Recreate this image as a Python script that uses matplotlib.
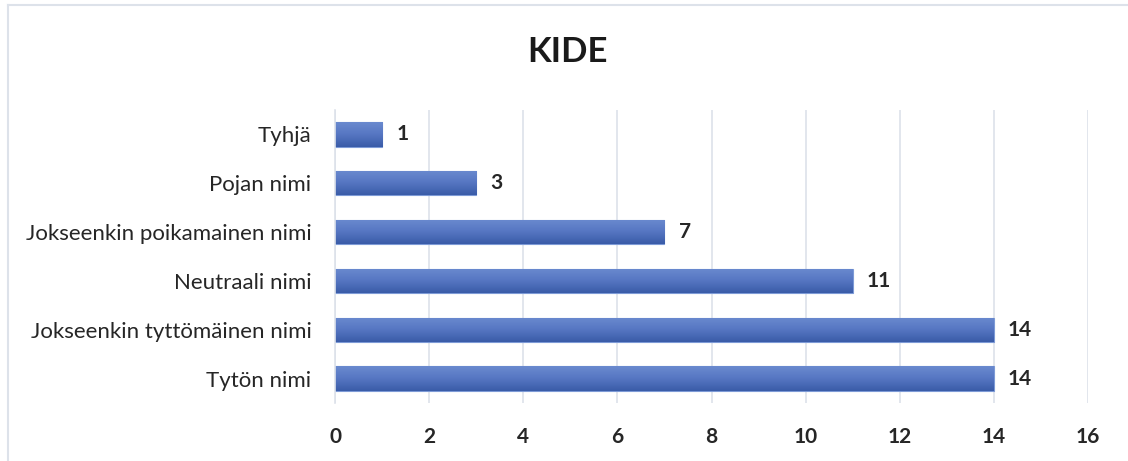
import numpy as np
import matplotlib
matplotlib.use("Agg")
import matplotlib.pyplot as plt
from matplotlib.colors import LinearSegmentedColormap
from matplotlib.lines import Line2D

categories = ["Tytön nimi", "Jokseenkin tyttömäinen nimi", "Neutraali nimi",
              "Jokseenkin poikamainen nimi", "Pojan nimi", "Tyhjä"]
values = [14, 14, 11, 7, 3, 1]
xticks = [0, 2, 4, 6, 8, 10, 12, 14, 16]
title = "KIDE"

plt.rcParams['font.family'] = ['Lato', 'DejaVu Sans']
txt = "#262626"

W, H = 1128, 461
fig = plt.figure(figsize=(W / 100, H / 100), dpi=100)
fig.patch.set_facecolor("white")

# chart frame (top and left edges visible)
fig.add_artist(Line2D([8 / W, 1], [1 - 5 / H, 1 - 5 / H], color="#dde2ea", lw=1.5))
fig.add_artist(Line2D([8 / W, 8 / W], [0, 1 - 5 / H], color="#dde2ea", lw=1.5))

ax = fig.add_axes([335 / W, 1 - 403 / H, (1088 - 335) / W, (403 - 110) / H])
y = np.arange(len(categories))
bh = 0.5
bars = ax.barh(y, values, height=bh, color="#4a6cb8", edgecolor="#7d9ad6", linewidth=0.8, zorder=2)

cmap = LinearSegmentedColormap.from_list("g", ["#3a5ca8", "#5676c2", "#6a8acf"])
grad = np.linspace(0, 1, 64).reshape(-1, 1)
for b in bars:
    x0, y0 = b.get_x(), b.get_y()
    w, h = b.get_width(), b.get_height()
    im = ax.imshow(grad, cmap=cmap, aspect="auto", extent=[x0, x0 + w, y0, y0 + h],
                   origin="lower", zorder=2.5, interpolation="bilinear")
    im.set_clip_path(b)

for yi, v in zip(y, values):
    ax.text(v + 0.3, yi, str(v), va="center", ha="left", fontsize=15,
            fontweight="bold", color=txt)

ax.set_xlim(0, 16)
ax.set_ylim(-0.5, len(categories) - 0.5)
ax.set_xticks(xticks)
ax.set_xticklabels([str(t) for t in xticks], fontsize=15, fontweight="bold", color=txt)
ax.set_yticks(y)
ax.set_yticklabels(categories, fontsize=16, color=txt)
ax.tick_params(axis="both", length=0)
ax.tick_params(axis="x", pad=17)
ax.tick_params(axis="y", pad=17)
ax.grid(axis="x", color="#dde2ea", lw=1.2, zorder=0)
for s in ["top", "right", "bottom"]:
    ax.spines[s].set_visible(False)
ax.spines["left"].set_color("#dde2ea")
ax.spines["left"].set_linewidth(1.2)
ax.set_axisbelow(True)

fig.text(568 / W, 1 - 52 / H, title, ha="center", va="center", fontsize=25,
         fontweight="bold", color="#1a1a1a")

fig.savefig("out.png", dpi=100, facecolor="white")
